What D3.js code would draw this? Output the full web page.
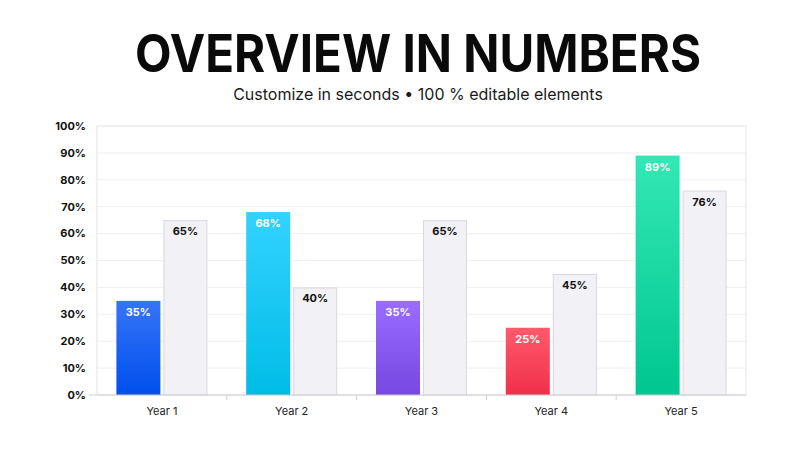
<!DOCTYPE html>
<html>
<head>
<meta charset="utf-8">
<script src="https://cdn.jsdelivr.net/npm/d3@7"></script>
<style>
  body { margin: 0; background: #fff; }
  text { font-family: Inter, "Noto Sans", sans-serif; }
</style>
</head>
<body>
<div id="chart"></div>
<script>
const svgWidth = 800, svgHeight = 450;
const margin = { top: 126, right: 54, bottom: 55, left: 97 };

// Data
const years = ["Year 1", "Year 2", "Year 3", "Year 4", "Year 5"];
const mainValues = [35, 68, 35, 25, 89];
const otherValues = [65, 40, 65, 45, 76];
const yTicks = [0, 10, 20, 30, 40, 50, 60, 70, 80, 90, 100];
const barColors = [
    ["#3674f7", "#0050ee"],
    ["#33d2ff", "#00bde6"],
    ["#9a6cff", "#7748e2"],
    ["#ff5a6c", "#f0304a"],
    ["#33e8b4", "#00c690"]
];

const svg = d3.select("#chart")
    .append("svg")
    .attr("width", svgWidth)
    .attr("height", svgHeight);

const width = svgWidth - margin.right;
const height = svgHeight - margin.bottom;

// Title and subtitle
svg.append("text")
    .attr("x", 418)
    .attr("y", 72)
    .attr("text-anchor", "middle")
    .attr("textLength", 566)
    .attr("lengthAdjust", "spacingAndGlyphs")
    .style("font-size", "52px")
    .style("font-weight", "700")
    .style("fill", "#0a0a0a")
    .text("OVERVIEW IN NUMBERS");

svg.append("text")
    .attr("x", 418)
    .attr("y", 100)
    .attr("text-anchor", "middle")
    .style("font-size", "16px")
    .style("fill", "#1a1a1a")
    .text("Customize in seconds \u2022 100 % editable elements");

// Scales
const x = d3.scaleBand()
    .domain(years)
    .range([margin.left, width]);

const y = d3.scaleLinear()
    .domain([0, 100])
    .range([height, margin.top]);

const barW = 44, gap = 3;
const groupOffset = (x.bandwidth() - (barW * 2 + gap)) / 2;

// Gradients
const defs = svg.append("defs");
barColors.forEach((c, i) => {
    const g = defs.append("linearGradient")
        .attr("id", "grad" + i)
        .attr("x1", 0).attr("y1", 0).attr("x2", 0).attr("y2", 1);
    g.append("stop").attr("offset", "0%").attr("stop-color", c[0]);
    g.append("stop").attr("offset", "100%").attr("stop-color", c[1]);
});

// Gridlines
svg.append("g")
    .selectAll("line")
    .data(yTicks.slice(1, -1))
    .enter().append("line")
    .attr("x1", margin.left)
    .attr("x2", width)
    .attr("y1", d => y(d))
    .attr("y2", d => y(d))
    .attr("stroke", "#f0f0f3")
    .attr("stroke-width", 1);

// Frame
svg.append("rect")
    .attr("x", margin.left)
    .attr("y", margin.top)
    .attr("width", width - margin.left)
    .attr("height", height - margin.top)
    .attr("fill", "none")
    .attr("stroke", "#e4e4e8");

// Y axis labels
svg.append("g")
    .selectAll("text")
    .data(yTicks)
    .enter().append("text")
    .attr("x", 86)
    .attr("y", d => y(d))
    .attr("dy", "0.35em")
    .attr("text-anchor", "end")
    .style("font-size", "11px")
    .style("font-weight", "700")
    .style("fill", "#111")
    .text(d => d + "%");

// Main bars
svg.append("g")
    .selectAll("rect")
    .data(mainValues)
    .enter().append("rect")
    .attr("x", (d, i) => x(years[i]) + groupOffset)
    .attr("y", d => y(d))
    .attr("width", barW)
    .attr("height", d => height - y(d))
    .attr("fill", (d, i) => `url(#grad${i})`);

// Comparison bars
svg.append("g")
    .selectAll("rect")
    .data(otherValues)
    .enter().append("rect")
    .attr("x", (d, i) => x(years[i]) + groupOffset + barW + gap + 0.5)
    .attr("y", d => y(d) + 0.5)
    .attr("width", barW - 1)
    .attr("height", d => height - y(d) - 0.5)
    .attr("fill", "#f2f1f5")
    .attr("stroke", "#d9d8dd");

// Value labels
svg.append("g")
    .selectAll("text")
    .data(mainValues)
    .enter().append("text")
    .attr("x", (d, i) => x(years[i]) + groupOffset + barW / 2)
    .attr("y", d => y(d) + 15)
    .attr("text-anchor", "middle")
    .style("font-size", "11px")
    .style("font-weight", "700")
    .style("fill", "#fff")
    .text(d => d + "%");

svg.append("g")
    .selectAll("text")
    .data(otherValues)
    .enter().append("text")
    .attr("x", (d, i) => x(years[i]) + groupOffset + barW * 1.5 + gap)
    .attr("y", d => y(d) + 15)
    .attr("text-anchor", "middle")
    .style("font-size", "11px")
    .style("font-weight", "700")
    .style("fill", "#111")
    .text(d => d + "%");

// X axis
const xAxis = svg.append("g")
    .attr("transform", `translate(0, ${height})`);

xAxis.append("line")
    .attr("x1", margin.left - 8)
    .attr("x2", width)
    .attr("stroke", "#cfcfd4");

xAxis.selectAll("line.tick")
    .data(years.slice(1))
    .enter().append("line")
    .attr("class", "tick")
    .attr("x1", d => x(d))
    .attr("x2", d => x(d))
    .attr("y1", 0)
    .attr("y2", 5)
    .attr("stroke", "#cfcfd4");

xAxis.selectAll("text")
    .data(years)
    .enter().append("text")
    .attr("x", d => x(d) + x.bandwidth() / 2)
    .attr("y", 20)
    .attr("text-anchor", "middle")
    .style("font-size", "11px")
    .style("font-weight", "400")
    .style("fill", "#222")
    .text(d => d);
</script>
</body>
</html>
